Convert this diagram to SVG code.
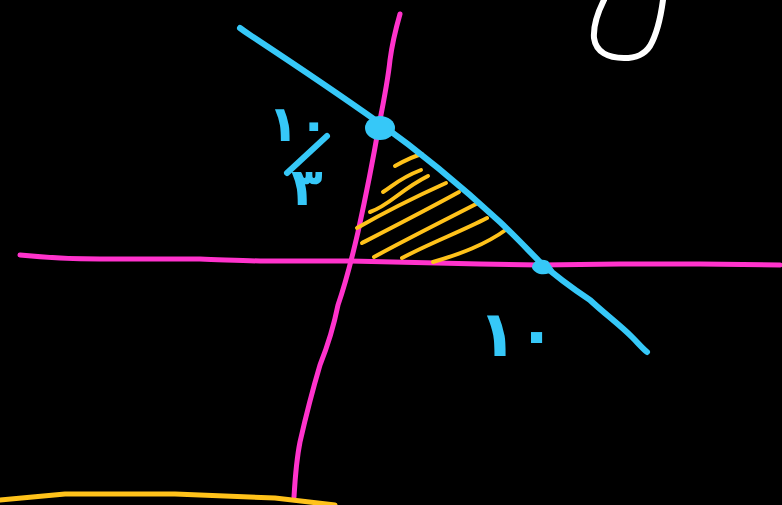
<svg xmlns="http://www.w3.org/2000/svg" width="782" height="505" viewBox="0 0 782 505">
<style>
.s{fill:none;stroke-linecap:round;stroke-linejoin:round}
.b{stroke:#36c8f8;stroke-width:6}
.p{stroke:#ff33cc;stroke-width:5}
.y{stroke:#ffc21a;stroke-width:5}
.h{stroke:#ffc21a;stroke-width:4}
.w{stroke:#ffffff;stroke-width:6}
.t{fill:#36c8f8;font-family:"DejaVu Sans",sans-serif;font-weight:bold}
</style>
<rect width="782" height="505" fill="#000"/>
<g id="axes">
<path class="s p" d="M20,255 C40,257 70,259 100,259 L200,259 C230,260 250,261 265,261 L350,261 L480,264 L540,265 L620,264 L700,264 L780,265"/>
<path class="s p" d="M400,14 C396,28 392,45 390,60 C388,80 384,100 379,125 C373,160 365,200 358,232 C352,258 346,282 338,305 C334,325 328,345 320,365 C312,392 305,420 300,442 C296,462 295,480 294,497"/>
</g>
<g id="hatching">
<path class="s h" d="M395,166 C404,161 414,156 422,154"/>
<path class="s h" d="M383,192 C394,185 400,178 421,170"/>
<path class="s h" d="M370,212 C390,205 400,190 428,176"/>
<path class="s h" d="M357,228 C385,212 415,197 446,183"/>
<path class="s h" d="M362,243 C395,226 430,208 459,192"/>
<path class="s h" d="M374,257 C405,240 445,220 478,203"/>
<path class="s h" d="M402,258 C430,243 460,232 487,218"/>
<path class="s h" d="M433,262 C460,254 485,245 507,229"/>
</g>
<g id="line">
<path class="s b" d="M240,28 C244,31 247,33 250,35 C300,68 340,95 378,122 C420,152 460,185 500,222 C515,236 528,250 540,262 C560,280 575,290 590,300 C605,314 620,325 632,337 C638,343 642,348 647,352"/>
<ellipse cx="380" cy="128" rx="15" ry="12" fill="#36c8f8"/>
<path d="M532,268 C532,261 540,258 548,261 L554,270 C548,276 536,276 532,268 Z" fill="#36c8f8"/>
</g>
<g id="labels">
<text class="t" x="268" y="141" font-size="50">۱۰</text>
<path class="s b" d="M287,173 L327,136"/>
<text class="t" x="291" y="205" font-size="52">۳</text>
<text class="t" x="478" y="356" font-size="64">۱۰</text>
</g>
<g id="yellow-base">
<path class="s y" d="M0,500 L65,494 L175,494 L275,498 L335,505"/>
</g>
<g id="white-curve">
<path class="s w" d="M663,0 C661,15 658,32 650,46 C644,55 636,58 624,58 C608,58 596,52 594,38 C593,25 598,12 604,0"/>
</g>
</svg>
